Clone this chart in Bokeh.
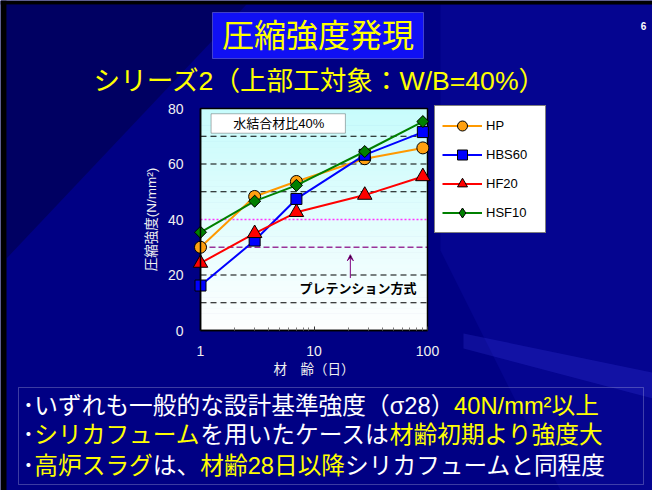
import numpy as np
from bokeh.plotting import figure
from bokeh.models import (Range1d, LogScale, LogAxis, LinearAxis, FixedTicker, Label,
                          BoxAnnotation, Arrow, VeeHead, Legend, LegendItem)
from bokeh.embed import file_html
from bokeh.resources import INLINE

# ---------------- data ----------------
age_days = [1, 3, 7, 28, 91]
hp = [30.0, 48.3, 53.7, 61.9, 65.8]
hbs60 = [16.2, 32.4, 47.4, 63.3, 71.5]
hf20 = [24.3, 35.0, 42.6, 48.8, 55.5]
hsf10 = [35.4, 46.6, 52.3, 64.5, 75.3]
series_names = ["HP", "HBS60", "HF20", "HSF10"]
x_ticks = [1, 10, 100]
x_tick_labels = ["1", "10", "100"]
y_ticks = [0, 20, 40, 60, 80]
grid_values = [10, 20, 50, 60, 70]
pretension_level = 30
design_level = 40

title_text = "圧縮強度発現"
subtitle_text = "シリーズ2（上部工対象：W/B=40%）"
x_label = "材　齢（日）"
y_label = "圧縮強度(N/mm²)"
box_text = "水結合材比40%"
arrow_text = "プレテンション方式"
page_no = "6"
WHITE_T = "#ffffff"
YELLOW_T = "#ffff00"
bullet_lines = [
    [("･", WHITE_T), ("いずれも一般的な設計基準強度（σ28）", WHITE_T), ("40N/mm²以上", YELLOW_T)],
    [("･", WHITE_T), ("シリカフューム", YELLOW_T), ("を用いたケースは", WHITE_T), ("材齢初期より強度大", YELLOW_T)],
    [("･", WHITE_T), ("高炉スラグ", YELLOW_T), ("は、", WHITE_T), ("材齢28日以降", YELLOW_T), ("シリカフュームと同程度", WHITE_T)],
]

# ---------------- layout ----------------
W, H = 652, 490
BG = "#000084"
JP = "Liberation Sans, Noto Sans CJK JP"
FL, FR, FT, FB = 200, 427, 108, 330   # chart area on the canvas (px)

# chart scales so that the data area lands on the chart rectangle
x0, x1 = x_ticks[0], x_ticks[-1]
y0, y1 = y_ticks[0], y_ticks[-1]
ppd = (FR - FL) / (np.log10(x1) - np.log10(x0))
age_range = Range1d(10 ** (np.log10(x0) - FL / ppd), 10 ** (np.log10(x1) + (W - FR) / ppd))
ppu = (FB - FT) / (y1 - y0)
str_range = Range1d(y0 - (H - FB) / ppu, y1 + FT / ppu)

p = figure(width=W, height=H, x_range=Range1d(0, W), y_range=Range1d(H, 0),
           output_backend="svg", toolbar_location=None, title=None,
           x_axis_location=None, y_axis_location=None, min_border=0,
           border_fill_color=BG, background_fill_color=BG, outline_line_color=None)
p.grid.visible = False
p.extra_x_ranges = {"age": age_range}
p.extra_x_scales = {"age": LogScale()}
p.extra_y_ranges = {"str": str_range}
C = dict(x_range_name="age", y_range_name="str")

# background streaks of the slide
p.patches(xs=[[6, 246, 6],
              [440, 652, 652, 560, 440],
              [463, 652, 652, 463]],
          ys=[[4, 4, 258],
              [4, 4, 490, 490, 250],
              [333, 372, 398, 348]],
          fill_color=["#000030", "#3030ff", "#5050ff"], fill_alpha=[0.4, 0.1, 0.18],
          line_color=None)

# chart area: light cyan at top fading to white at bottom
nb = 40
edges = np.linspace(y0, y1, nb + 1)
cols = []
for i in range(nb):
    t = (i + 0.5) / nb
    r = int(255 + (200 - 255) * t)
    g = int(255 + (252 - 255) * t)
    cols.append("#%02x%02x%02x" % (r, g, g))
p.quad(left=x0, right=x1, bottom=edges[:-1], top=edges[1:], fill_color=cols, line_color=cols,
       line_width=1, **C)

# horizontal dashed grid and reference lines
p.segment(x0=[x0] * len(grid_values), x1=[x1] * len(grid_values), y0=grid_values, y1=grid_values,
          line_color="black", line_dash="6 4", line_width=1, **C)
p.segment(x0=[x0], x1=[x1], y0=[design_level], y1=[design_level], line_color="#ff33ff",
          line_dash="2 2", line_width=1.5, **C)
p.segment(x0=[x0], x1=[x1], y0=[pretension_level], y1=[pretension_level], line_color="#993399",
          line_dash="6 3", line_width=1.5, **C)
p.quad(left=[x0], right=[x1], bottom=[y0], top=[y1], fill_color=None, line_color="black",
       line_width=1.5, **C)

# axes fixed on the chart rectangle
xa = LogAxis(fixed_location=y0, bounds=(x0, x1), **C)
xa.ticker = FixedTicker(ticks=x_ticks, minor_ticks=[m * d for d in [1, 10] for m in range(2, 10)])
xa.major_label_overrides = {t: s for t, s in zip(x_ticks, x_tick_labels)}
xa.major_tick_in = 4
xa.major_tick_out = 0
xa.minor_tick_in = 3
xa.minor_tick_out = 0
xa.major_tick_line_color = "#333333"
xa.minor_tick_line_color = "#777777"
xa.axis_line_color = "black"
xa.axis_line_width = 1.5
xa.major_label_text_color = "#f0f0f0"
xa.major_label_text_font = "Liberation Sans"
xa.major_label_text_font_size = "14px"
xa.major_label_standoff = 15
xa.axis_label = x_label
xa.axis_label_text_font = JP
xa.axis_label_text_font_style = "normal"
xa.axis_label_text_font_size = "13.5px"
xa.axis_label_text_color = "#f0f0f0"
xa.axis_label_standoff = 3
p.add_layout(xa, "below")

ya = LinearAxis(fixed_location=x0, bounds=(y0, y1), **C)
ya.ticker = FixedTicker(ticks=y_ticks)
ya.major_tick_in = 0
ya.major_tick_out = 0
ya.minor_tick_line_color = None
ya.axis_line_color = "black"
ya.axis_line_width = 1.5
ya.major_label_text_color = "#f0f0f0"
ya.major_label_text_font = "Liberation Sans"
ya.major_label_text_font_size = "14px"
ya.major_label_standoff = 17
ya.axis_label = y_label
ya.axis_label_text_font = JP
ya.axis_label_text_font_style = "normal"
ya.axis_label_text_font_size = "13.5px"
ya.axis_label_text_color = "#f0f0f0"
ya.axis_label_standoff = 6
p.add_layout(ya, "left")

# series
styles = [
    dict(values=hp, color="#ff9900", fill="#ffa010", marker="circle", size=12, angle=0.0),
    dict(values=hbs60, color="#0000ff", fill="#0000ff", marker="square", size=11, angle=0.0),
    dict(values=hf20, color="#ff0000", fill="#ff0000", marker="triangle", size=14.5, angle=0.0),
    dict(values=hsf10, color="#008000", fill="#008000", marker="square", size=8.5, angle=np.pi / 4),
]
items = []
for name, st in zip(series_names, styles):
    lr = p.line(age_days, st["values"], line_color=st["color"], line_width=2, **C)
    rends = [lr]
    if st["angle"] != 0.0:
        # diamond drawn beneath the rotated square, shown in the legend
        rends.append(p.scatter(age_days, st["values"], marker="diamond", size=11,
                               fill_color=st["fill"], line_color="black", line_width=1, **C))
    sr = p.scatter(age_days, st["values"], marker=st["marker"], size=st["size"], angle=st["angle"],
                   fill_color=st["fill"], line_color="black", line_width=1, **C)
    if st["angle"] == 0.0:
        rends.append(sr)
    items.append(LegendItem(label=name, renderers=rends))

# in-chart annotations
p.add_layout(BoxAnnotation(left=1.24, right=18.9, bottom=71.1, top=78.1, fill_color="white",
                           fill_alpha=1.0, line_color="black", line_width=1, **C))
p.add_layout(Label(x=4.9, y=74.6, text=box_text, text_font=JP, text_font_size="13px",
                   text_color="black", text_align="center", text_baseline="middle", **C))
p.add_layout(Arrow(x_start=20.9, y_start=18.9, x_end=20.9, y_end=27.3, line_color="#800080",
                   line_width=1, end=VeeHead(size=6, line_color="#800080", line_width=1), **C))
p.add_layout(Label(x=24.4, y=15.2, text=arrow_text, text_font=JP, text_font_size="13px",
                   text_color="black", text_font_style="bold", text_align="center",
                   text_baseline="middle", **C))


# slide decoration (canvas pixel coordinates through the main ranges)
def add_box(l, r, t, b, fill=None, line=None, lw=1):
    p.add_layout(BoxAnnotation(left=l, right=r, top=t, bottom=b, fill_color=fill, fill_alpha=1.0,
                               line_color=line, line_width=lw))


def add_label(x, y, text, size, color, align="center", font=JP, style="normal"):
    p.add_layout(Label(x=x, y=y, text=text, text_font=font, text_font_size=f"{size}px",
                       text_color=color, text_align=align, text_baseline="middle",
                       text_font_style=style))


add_box(0, 6, 0, H, fill="black")
add_box(0, W, 0, 4, fill="black")
add_box(212, 423, 12, 58, fill="#1010f4", line="#c8c8ff")
add_label(317.5, 35.5, title_text, 32, YELLOW_T)
add_label(319.5, 80, subtitle_text, 26.6, YELLOW_T)
add_label(643, 25, page_no, 10, "white", font="Liberation Sans", style="bold")

add_box(18, 643, 387, 484, fill=None, line="#c8c8e8")

ARIAL = {"0": .556, "1": .556, "2": .556, "3": .556, "4": .556, "5": .556, "6": .556, "7": .556,
         "8": .556, "9": .556, "N": .722, "/": .278, "m": .833, "²": .333, "σ": .6}


def text_w(s, f):
    return sum(ARIAL.get(ch, 0.5 if ch == "･" else 1.0) for ch in s) * f


FS = 23.7
line_y = [405, 434.5, 465]
for segs, Yref in zip(bullet_lines, line_y):
    xpos = 22
    for txt, col in segs:
        add_label(xpos, Yref, txt, FS, col, align="left")
        xpos += text_w(txt, FS)

# legend
pad, gh, sp = 7, 25, 4
leg_h = 2 * pad + 4 * gh + 3 * sp
legend = Legend(items=items, location=(434, H - 107 - leg_h), margin=0, padding=pad,
                border_line_color="black", border_line_width=1, background_fill_color="white",
                background_fill_alpha=1.0, label_text_font="Liberation Sans",
                label_text_font_size="13px", label_text_color="black",
                glyph_width=40, glyph_height=gh, label_height=gh, label_width=52,
                label_standoff=4, spacing=sp)
p.add_layout(legend, "center")

open("out.html", "w").write(file_html(p, INLINE))
